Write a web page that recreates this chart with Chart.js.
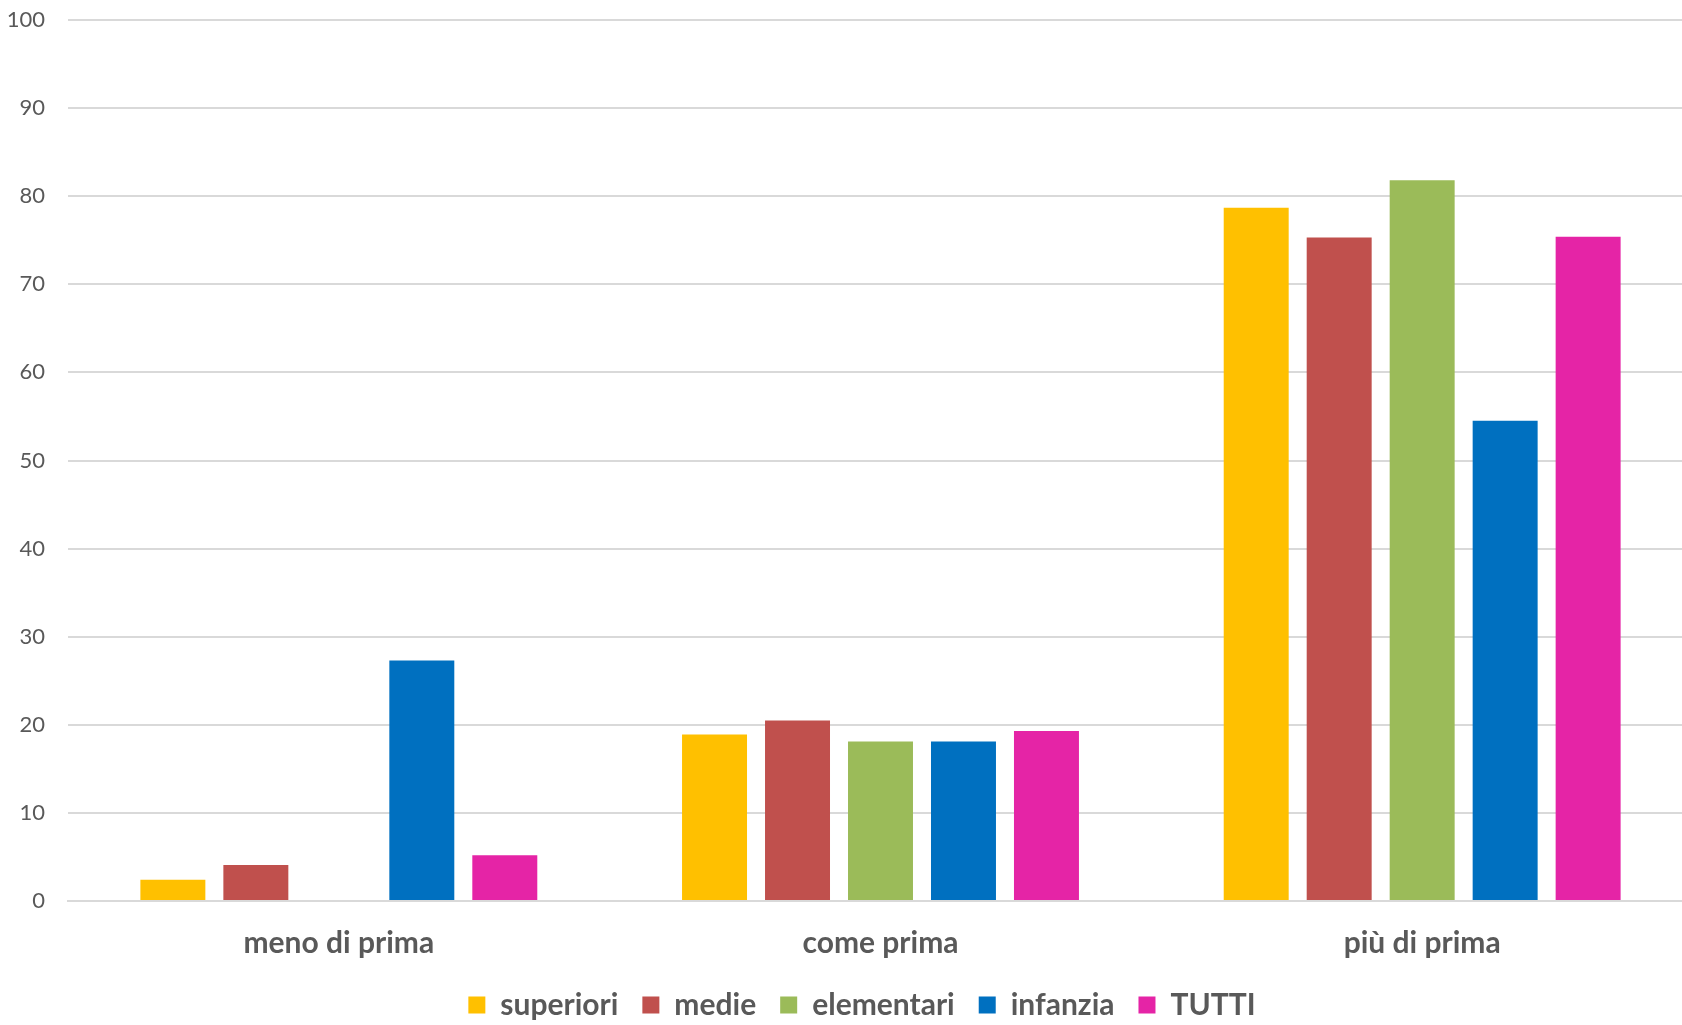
<!DOCTYPE html>
<html>
<head>
<meta charset="utf-8">
<script src="https://cdn.jsdelivr.net/npm/chart.js@4/dist/chart.umd.min.js"></script>
<style>
  html, body { margin: 0; padding: 0; background: #ffffff; overflow: hidden; }
  #wrap { width: 1682px; height: 1025px; position: relative; overflow: hidden; }
  #c { position: absolute; left: 0; top: 0; }
</style>
</head>
<body>
<div id="wrap"><canvas id="c" width="1693" height="1025"></canvas></div>
<script>
const categories = ["meno di prima", "come prima", "più di prima"];
const seriesNames = ["superiori", "medie", "elementari", "infanzia", "TUTTI"];
const superiori = [2.4, 18.9, 78.7];
const medie = [4.1, 20.5, 75.3];
const elementari = [0, 18.1, 81.8];
const infanzia = [27.3, 18.1, 54.5];
const tutti = [5.2, 19.3, 75.4];
const seriesColors = ["#FFC000", "#C0504D", "#9BBB59", "#0070C0", "#E524A6"];
const yTicks = [0, 10, 20, 30, 40, 50, 60, 70, 80, 90, 100];

const seriesValues = [superiori, medie, elementari, infanzia, tutti];
const FONT = "Lato, 'Open Sans', sans-serif";

const legendShift = {
  id: 'legendShift',
  afterLayout(chart) {
    const lg = chart.legend;
    if (!lg) return;
    const dx = 15.5;
    lg.left += dx; lg.right += dx;
    lg.top = 966; lg.bottom = 1025; lg.height = 1025 - 966;
  }
};

new Chart(document.getElementById('c'), {
  type: 'bar',
  data: {
    labels: categories,
    datasets: seriesNames.map((name, i) => ({
      label: name,
      data: seriesValues[i],
      backgroundColor: seriesColors[i],
      borderWidth: 0,
      barPercentage: 0.783,
      categoryPercentage: 0.766
    }))
  },
  plugins: [legendShift],
  options: {
    responsive: false,
    animation: false,
    devicePixelRatio: 1,
    layout: { padding: { top: 20, right: 0, left: 0, bottom: 0 } },
    plugins: {
      legend: {
        position: 'bottom',
        maxHeight: 40,
        labels: {
          boxWidth: 17,
          boxHeight: 17,
          padding: 24,
          color: '#595959',
          font: { family: FONT, size: 30, weight: 'bold' }
        }
      },
      tooltip: { enabled: false }
    },
    scales: {
      x: {
        afterFit: (axis) => { axis.height = 84; axis.paddingLeft = 0; axis.paddingRight = 0; },
        grid: { display: false, drawTicks: false },
        border: { display: true, color: '#d9d9d9', width: 2 },
        ticks: {
          color: '#595959',
          padding: 24,
          font: { family: FONT, size: 30, weight: 'bold' }
        }
      },
      y: {
        min: 0,
        max: 100,
        afterBuildTicks: (axis) => { axis.ticks = yTicks.map(v => ({ value: v })); },
        afterFit: (axis) => { axis.width = 68; axis.paddingTop = 0; axis.paddingBottom = 0; },
        grid: { color: '#d9d9d9', lineWidth: 2, drawTicks: false },
        border: { display: false },
        ticks: {
          color: '#595959',
          padding: 23,
          font: { family: FONT, size: 22 }
        }
      }
    }
  }
});
</script>
</body>
</html>
